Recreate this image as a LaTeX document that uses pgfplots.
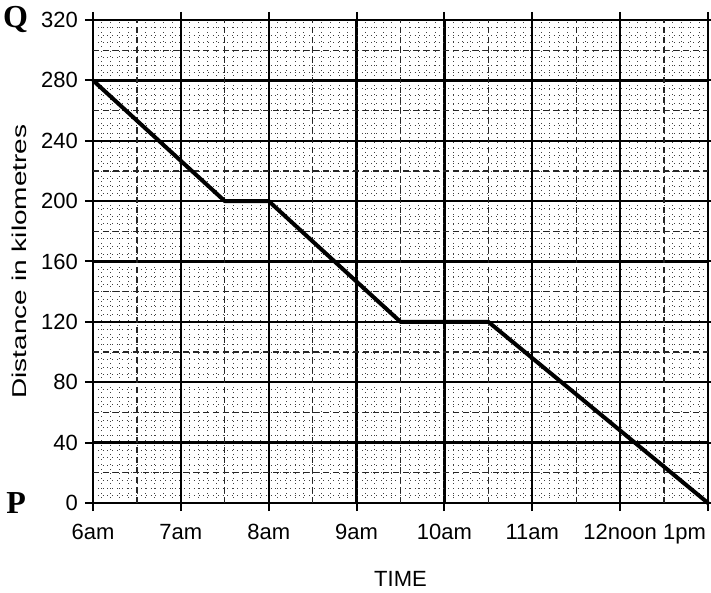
\documentclass[border=0pt]{standalone}
\usepackage{pgfplots}
\pgfplotsset{compat=1.18}
\usepackage{fontspec}
\setmainfont{Liberation Sans}
\newfontfamily\qpfont{Liberation Serif}
\begin{document}
\begin{tikzpicture}
\begin{axis}[
    at={(0,0)}, anchor=south west,
    scale only axis,
    width=307.5pt, height=241.5pt,
    xmin=6, xmax=13, ymin=0, ymax=320,
    xtick={6,7,8,9,10,11,12,13},
    xticklabels={6am,7am,8am,9am,10am,11am,12noon,\makebox[0pt][r]{1pm\hspace{1pt}}},
    ytick={0,40,80,120,160,200,240,280,320},
    /pgf/number format/assume math mode=true,
    minor x tick num=9,
    minor y tick num=7,
    tick align=outside,
    major tick length=4pt,
    minor tick length=0pt,
    tick style={black, line width=1pt},
    grid=both,
    major grid style={black, line width=1.2pt},
    minor grid style={black!75, line width=0.4pt, dotted},
    extra x ticks={6.5,7.5,8.5,9.5,10.5,11.5,12.5},
    extra y ticks={20,60,100,140,180,220,260,300},
    extra tick style={grid=major, major grid style={black!85, line width=0.6pt, densely dashed}, major tick length=0pt, tick label style={opacity=0}},
    extra x tick labels={}, extra y tick labels={},
    axis line style={black, line width=1.4pt},
    tick label style={font=\fontsize{11}{13}\selectfont},
    xticklabel style={yshift=-3pt},
    xlabel={TIME},
    xlabel style={font=\fontsize{11}{13}\selectfont, at={(axis description cs:0.5,0)}, anchor=center, yshift=-38pt},
    ylabel={\scalebox{1.4}[1]{Distance in kilometres}},
    ylabel style={font=\fontsize{10}{12}\selectfont, at={(axis description cs:0,0.5)}, anchor=center, yshift=37pt},
    clip=false,
]
\addplot[black, line width=2pt, line join=round] coordinates {
    (6,280) (7.5,200) (8,200) (9.5,120) (10.5,120) (13,0)
};
\node[font=\qpfont\bfseries\fontsize{16}{18}\selectfont, anchor=east] at ([xshift=-29pt]rel axis cs:0,1) {Q};
\node[font=\qpfont\bfseries\fontsize{16}{18}\selectfont, anchor=east] at ([xshift=-30pt]rel axis cs:0,0) {P};
\end{axis}
\pgfresetboundingbox
\path (-46.5pt,-45pt) rectangle (309pt,251.5pt);
\end{tikzpicture}
\end{document}
